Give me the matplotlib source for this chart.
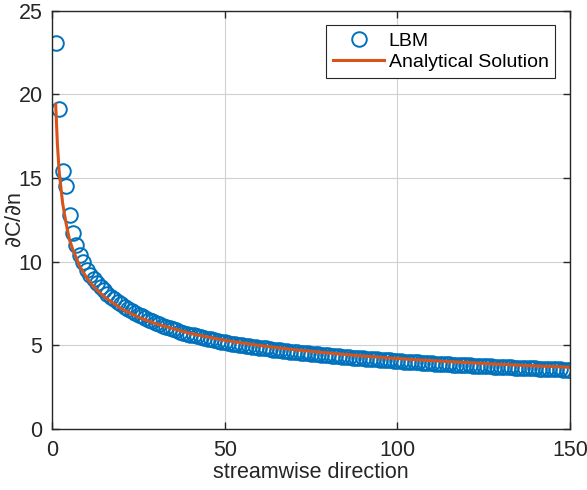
import matplotlib
matplotlib.use("Agg")
import matplotlib.pyplot as plt
import numpy as np

plt.rcParams['font.family'] = ['Liberation Sans', 'DejaVu Sans']

# LBM samples along the wall, x = 1..150
lbm_x = np.arange(1, 151)
lbm_y = [
    23.1, 19.1, 15.4, 14.5, 12.8, 11.7, 11.0, 10.4, 10.0, 9.50,
    9.20, 8.94, 8.69, 8.47, 8.27, 8.08, 7.90, 7.74, 7.59, 7.44,
    7.31, 7.18, 7.06, 6.94, 6.83, 6.72, 6.62, 6.52, 6.43, 6.34,
    6.25, 6.16, 6.08, 6.01, 5.94, 5.88, 5.81, 5.75, 5.69, 5.63,
    5.58, 5.53, 5.48, 5.43, 5.38, 5.34, 5.29, 5.26, 5.21, 5.17,
    5.13, 5.09, 5.06, 5.03, 5.00, 4.97, 4.94, 4.91, 4.88, 4.85,
    4.82, 4.80, 4.77, 4.74, 4.72, 4.69, 4.67, 4.65, 4.62, 4.60,
    4.58, 4.56, 4.53, 4.51, 4.49, 4.47, 4.45, 4.43, 4.41, 4.39,
    4.37, 4.35, 4.33, 4.31, 4.30, 4.28, 4.26, 4.24, 4.23, 4.21,
    4.19, 4.18, 4.16, 4.15, 4.13, 4.12, 4.10, 4.09, 4.07, 4.06,
    4.04, 4.02, 4.01, 3.99, 3.98, 3.97, 3.95, 3.94, 3.93, 3.91,
    3.90, 3.89, 3.88, 3.87, 3.86, 3.84, 3.83, 3.82, 3.81, 3.80,
    3.79, 3.78, 3.77, 3.76, 3.75, 3.74, 3.73, 3.72, 3.71, 3.70,
    3.69, 3.68, 3.67, 3.66, 3.65, 3.64, 3.63, 3.62, 3.62, 3.61,
    3.60, 3.59, 3.58, 3.57, 3.57, 3.56, 3.55, 3.54, 3.53, 3.52,
]

# analytical curve, read at a few stations
ana_x = [1, 1.5, 2, 3, 4, 5, 6, 8, 10, 12, 15, 20, 25, 30, 40, 50,
         60, 70, 80, 90, 100, 110, 120, 130, 140, 150]
ana_y = [19.4, 17.0, 15.4, 13.5, 12.3, 11.3, 10.7, 9.70, 9.02, 8.50,
         7.90, 7.18, 6.67, 6.28, 5.70, 5.29, 4.98, 4.73, 4.53, 4.35,
         4.20, 4.07, 3.96, 3.85, 3.76, 3.68]

fig = plt.figure(figsize=(5.87, 4.9), dpi=100)
ax = fig.add_axes([0.089, 0.125, 0.882, 0.853])

ax.plot(lbm_x, lbm_y, 'o', mfc='none', mec='#0072BD', ms=10.5, mew=1.4,
        label='LBM')
ax.plot(ana_x, ana_y, '-', color='#D95319', lw=2.2, label='Analytical Solution')

ax.set_xlim(0, 150)
ax.set_ylim(0, 25)
ax.set_xticks([0, 50, 100, 150])
ax.set_yticks([0, 5, 10, 15, 20, 25])
ax.grid(True, color='#d0d0d0', lw=0.8)
ax.set_axisbelow(True)
ax.tick_params(direction='in', top=True, right=True, labelsize=15.5,
               length=5, width=1, colors='#262626')
ax.tick_params(axis='x', pad=8)
ax.tick_params(axis='y', pad=7)
for s in ax.spines.values():
    s.set_color('#262626')
    s.set_linewidth(1)

ax.set_xlabel('streamwise direction', fontsize=15.5, color='#262626',
              labelpad=1)
ax.set_ylabel(r'$\partial$C/$\partial$n', fontsize=15.5, color='#262626')
ax.yaxis.set_label_coords(-0.052, 0.5)

leg = ax.legend(loc='upper right', fontsize=14, fancybox=False,
                edgecolor='#262626', framealpha=1, borderpad=0.35,
                handlelength=2.6, handletextpad=0.25, labelspacing=0.2,
                borderaxespad=0.75)
leg.get_frame().set_linewidth(0.8)

fig.savefig('out.png', dpi=100)
